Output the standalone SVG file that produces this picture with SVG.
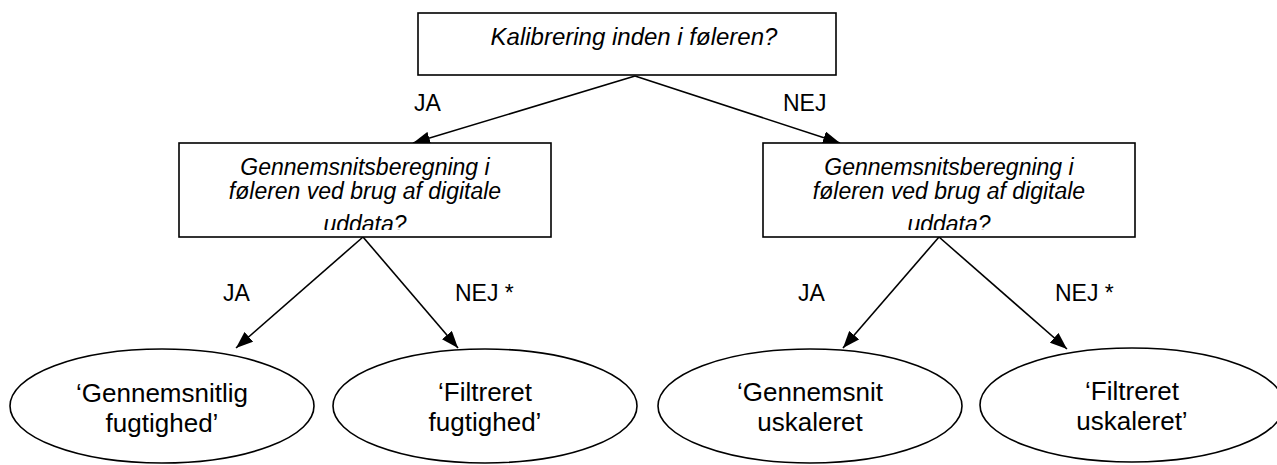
<svg xmlns="http://www.w3.org/2000/svg" width="1277" height="465" viewBox="0 0 1277 465">
<style>
.box{fill:#fff;stroke:#000;stroke-width:1.6}
.ell{fill:#fff;stroke:#000;stroke-width:1.6}
.q{font-family:"Liberation Sans",Arial,sans-serif;font-style:italic;font-size:23px;fill:#000;text-anchor:middle}
.t{font-family:"Liberation Sans",Arial,sans-serif;font-size:26px;fill:#000;text-anchor:middle}
.lbl{font-family:"Liberation Sans",Arial,sans-serif;font-size:23px;fill:#000}
.c{stroke:#000;stroke-width:1.6;fill:none;marker-end:url(#ah)}
</style>
<defs>
<marker id="ah" viewBox="0 0 17 13" refX="17" refY="6.5" markerWidth="17" markerHeight="13" markerUnits="userSpaceOnUse" orient="auto">
<path d="M0,0 L17,6.5 L0,13 z" fill="#000"/>
</marker>
<clipPath id="clipL"><rect x="179" y="143" width="372" height="87"/></clipPath>
<clipPath id="clipR"><rect x="763" y="143" width="372" height="87"/></clipPath>
</defs>
<g id="connectors">
<line class="c" x1="635" y1="76" x2="413" y2="143"/>
<line class="c" x1="635" y1="76" x2="840" y2="143"/>
<line class="c" x1="363" y1="237" x2="236" y2="348"/>
<line class="c" x1="363" y1="237" x2="458" y2="348"/>
<line class="c" x1="939" y1="237" x2="843" y2="348"/>
<line class="c" x1="939" y1="237" x2="1067" y2="349"/>
<text class="lbl" x="414" y="111">JA</text>
<text class="lbl" x="783" y="111">NEJ</text>
<text class="lbl" x="223" y="301">JA</text>
<text class="lbl" x="455" y="301">NEJ *</text>
<text class="lbl" x="798" y="301">JA</text>
<text class="lbl" x="1055" y="301">NEJ *</text>
</g>
<g id="n-root">
<rect class="box" x="418" y="13" width="418" height="62"/>
<text class="q" x="634" y="45" style="font-size:24px">Kalibrering inden i føleren?</text>
</g>
<g id="n-left">
<rect class="box" x="179" y="143" width="372" height="94"/>
<g clip-path="url(#clipL)">
<text class="q" x="365" y="175">Gennemsnitsberegning i</text>
<text class="q" x="365" y="199">føleren ved brug af digitale</text>
<text class="q" x="365" y="232">uddata?</text>
</g>
</g>
<g id="n-right">
<rect class="box" x="763" y="143" width="372" height="94"/>
<g clip-path="url(#clipR)">
<text class="q" x="949" y="175">Gennemsnitsberegning i</text>
<text class="q" x="949" y="199">føleren ved brug af digitale</text>
<text class="q" x="949" y="232">uddata?</text>
</g>
</g>
<g id="e1">
<ellipse class="ell" cx="162" cy="406" rx="152" ry="57"/>
<text class="t" x="162" y="402">‘Gennemsnitlig</text>
<text class="t" x="162" y="432">fugtighed’</text>
</g>
<g id="e2">
<ellipse class="ell" cx="485" cy="406" rx="152" ry="57"/>
<text class="t" x="485" y="401">‘Filtreret</text>
<text class="t" x="485" y="431">fugtighed’</text>
</g>
<g id="e3">
<ellipse class="ell" cx="810" cy="406" rx="152" ry="57"/>
<text class="t" x="810" y="401">‘Gennemsnit</text>
<text class="t" x="810" y="431">uskaleret</text>
</g>
<g id="e4">
<ellipse class="ell" cx="1132" cy="405" rx="152" ry="57"/>
<text class="t" x="1132" y="400">‘Filtreret</text>
<text class="t" x="1132" y="430">uskaleret’</text>
</g>
</svg>
